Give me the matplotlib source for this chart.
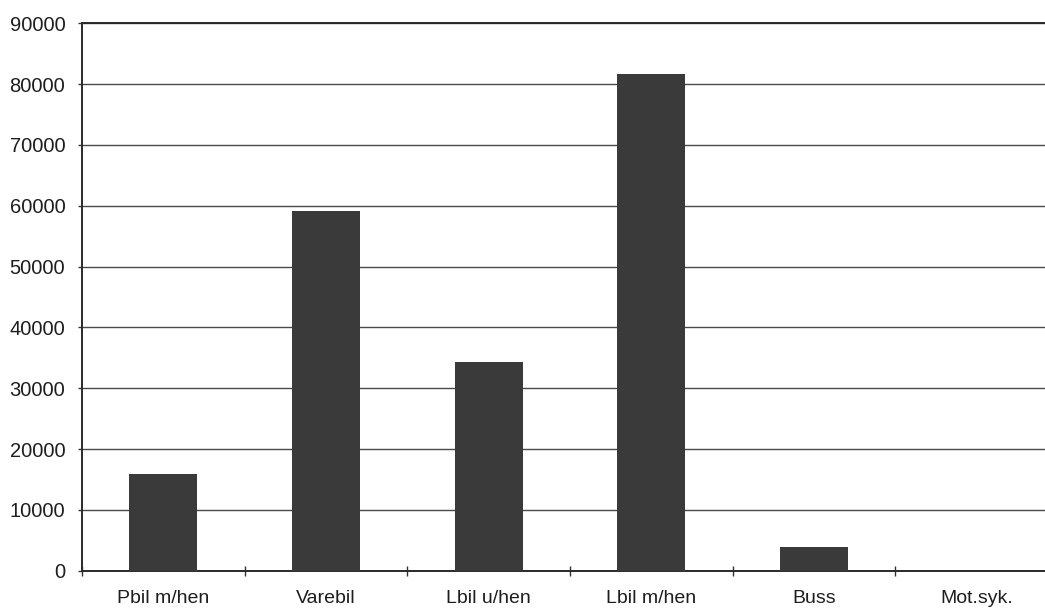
import matplotlib
matplotlib.use("Agg")
import matplotlib.pyplot as plt
import numpy as np

categories = ["Pbil m/hen", "Varebil", "Lbil u/hen", "Lbil m/hen", "Buss", "Mot.syk."]
values = [15850, 59200, 34350, 81650, 3900, 0]
y_ticks = [0, 10000, 20000, 30000, 40000, 50000, 60000, 70000, 80000, 90000]

plt.rcParams['font.family'] = ['Liberation Sans', 'DejaVu Sans']

fig = plt.figure(figsize=(10.45, 6.13), dpi=100)
# the original chart is cut off on the right, so the axes run past the figure edge
ax = fig.add_axes([82 / 1045, 42.3 / 613, 976 / 1045, 547.4 / 613])

x = np.arange(len(categories))
ax.bar(x, values, width=0.42, color="#3a3a3a", zorder=3)

ax.set_xlim(-0.5, len(categories) - 0.5)
ax.set_ylim(0, 90000)
ax.set_yticks(y_ticks)
ax.set_yticklabels([str(v) for v in y_ticks], fontsize=14.5, color="#1e1e1e")
ax.yaxis.grid(True, color="#4a4a4a", linewidth=1.0, zorder=1)

# category boundaries as major ticks, names as minor ticks
ax.set_xticks(np.arange(len(categories) + 1) - 0.5)
ax.set_xticklabels([])
ax.set_xticks(x, minor=True)
ax.set_xticklabels(categories, minor=True, fontsize=14, color="#1e1e1e")
ax.tick_params(axis="x", which="major", direction="inout", length=7, width=1, color="#333333")
ax.tick_params(axis="x", which="minor", length=0, pad=14)
ax.tick_params(axis="y", direction="out", length=3, width=1, color="#333333", pad=9)

for side in ["left", "bottom", "top"]:
    ax.spines[side].set_color("#2a2a2a")
    ax.spines[side].set_linewidth(1.4)
ax.spines["right"].set_visible(False)

fig.savefig("out.png", dpi=100)
